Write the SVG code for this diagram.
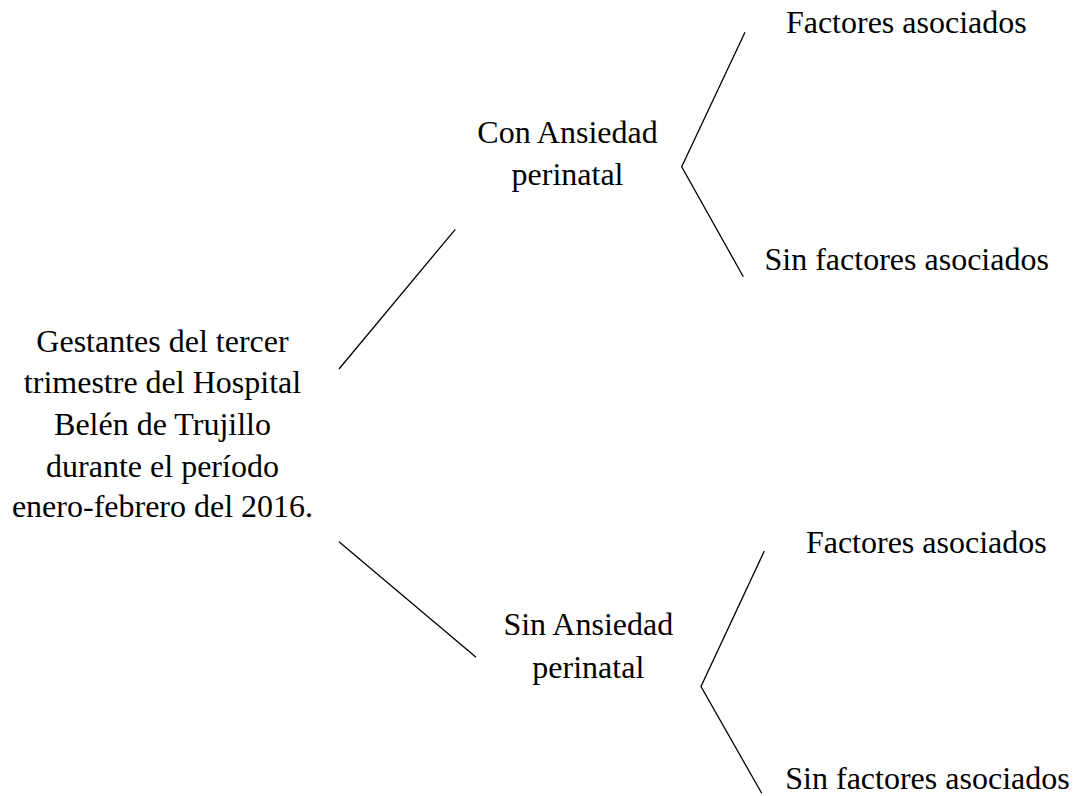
<svg xmlns="http://www.w3.org/2000/svg" width="1078" height="796" viewBox="0 0 1078 796">
<style>
text{font-size:32px;fill:#000;text-anchor:middle}
.c line,.c polyline{stroke:#000;stroke-width:1.3;fill:none}
</style>
<rect width="1078" height="796" fill="#fff"/>
<g class="c" id="connectors">
<line x1="339" y1="369" x2="455.3" y2="229.3"/>
<line x1="339" y1="541.7" x2="476" y2="657.3"/>
<polyline points="745,32.3 681.7,166.7 743.3,276.7"/>
<polyline points="764.3,551 701,686.5 761.7,793.3"/>
</g>
<g font-family="Liberation Serif, serif">
<g id="root">
<text x="162.5" y="351.7">Gestantes del tercer</text>
<text x="162.5" y="393.3">trimestre del Hospital</text>
<text x="162.5" y="435">Belén de Trujillo</text>
<text x="162.5" y="476.7">durante el período</text>
<text x="162.5" y="517">enero-febrero del 2016.</text>
</g>
<g id="con">
<text x="567.5" y="142.7">Con Ansiedad</text>
<text x="567.5" y="185">perinatal</text>
</g>
<g id="sin">
<text x="588.3" y="635">Sin Ansiedad</text>
<text x="588.3" y="678">perinatal</text>
</g>
<g id="con-f"><text x="906.3" y="33.3">Factores asociados</text></g>
<g id="con-sf"><text x="906.7" y="270">Sin factores asociados</text></g>
<g id="sin-f"><text x="926.3" y="552.7">Factores asociados</text></g>
<g id="sin-sf"><text x="927.5" y="789">Sin factores asociados</text></g>
</g>
</svg>
